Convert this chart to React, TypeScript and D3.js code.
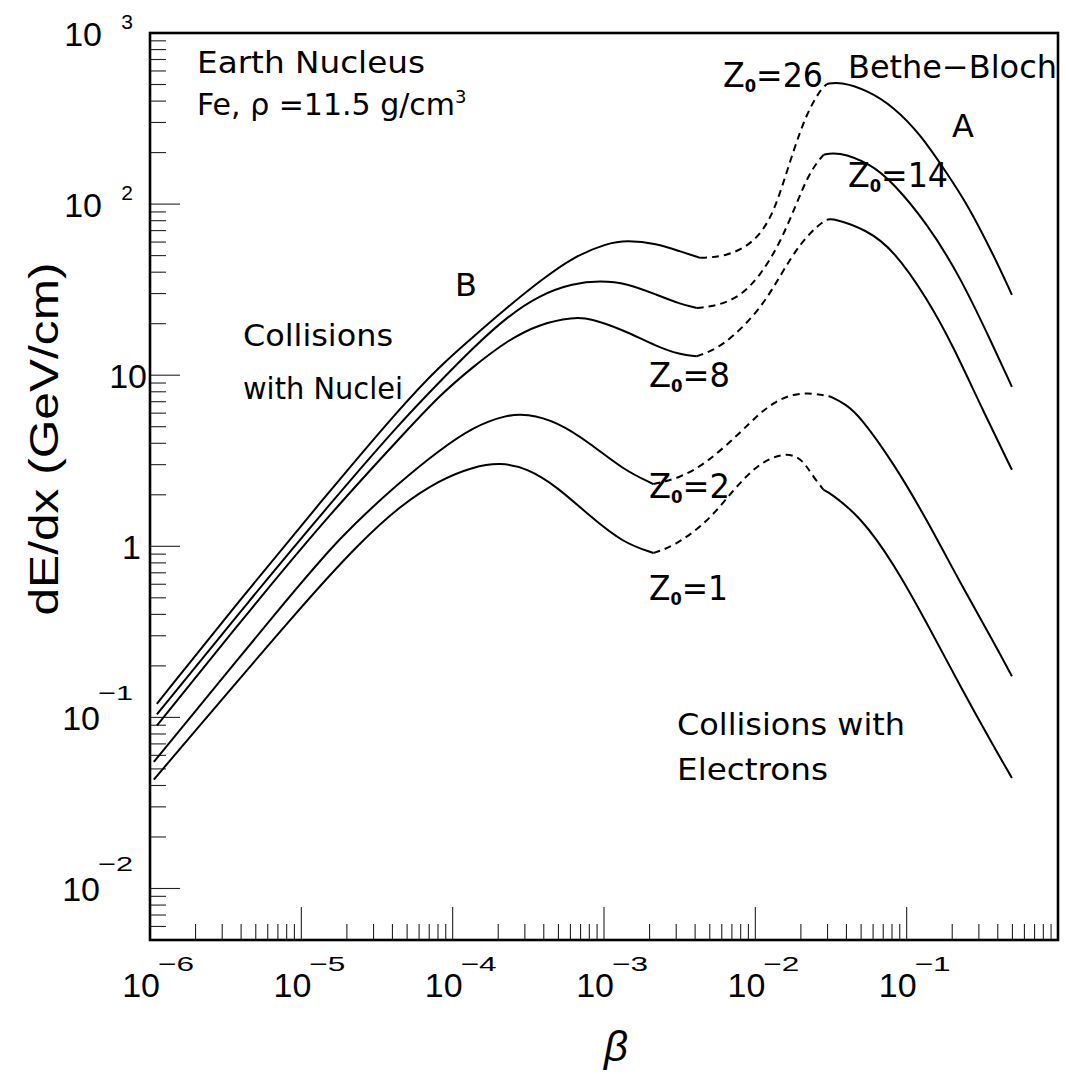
import React from "react";
import * as d3 from "d3";

type Pt = [number, number];

// Stopping power dE/dx (GeV/cm) versus beta, for projectile charges Z0.
// Each curve is split into: low-beta solid part, dashed bridge, Bethe-Bloch solid part.
const z26Low: Pt[] = [[1.11e-6, 0.12], [3.94e-6, 0.488], [1.33e-5, 1.8], [4.49e-5, 6.45], [8.25e-5, 11.35], [1.37e-4, 16.8], [2.28e-4, 24.8], [3.78e-4, 35.6], [6.28e-4, 49.2], [1.04e-3, 58.9], [1.415e-3, 61.4], [2.23e-3, 58.9], [3.18e-3, 52.9], [4.32e-3, 48.5]];
const z26Dash: Pt[] = [[4.32e-3, 48.5], [6.48e-3, 49.4], [9.71e-3, 59.1], [1.25e-2, 80.9], [1.46e-2, 116], [1.79e-2, 207], [2.19e-2, 340], [2.68e-2, 464], [2.97e-2, 504]];
const z26High: Pt[] = [[2.97e-2, 504], [3.64e-2, 519], [5.46e-2, 464], [8.18e-2, 371], [0.1228, 257], [0.1844, 151.5], [0.25, 101], [0.375, 50.5], [0.496, 29.5]];

const z14Low: Pt[] = [[1.11e-6, 0.104], [4.58e-6, 0.488], [1.55e-5, 1.774], [4.49e-5, 5.27], [8.25e-5, 9.19], [1.364e-4, 14.45], [2.28e-4, 21.9], [3.78e-4, 29.5], [6.25e-4, 34.4], [9.42e-4, 35.7], [1.415e-3, 34.5], [2.23e-3, 29.5], [3.18e-3, 26.1], [4.1e-3, 24.7]];
const z14Dash: Pt[] = [[4.1e-3, 24.7], [5.57e-3, 25.4], [7.93e-3, 28.8], [1.076e-2, 38.1], [1.459e-2, 59.3], [1.88e-2, 101.6], [2.3e-2, 156], [2.82e-2, 194]];
const z14High: Pt[] = [[2.82e-2, 194], [3.46e-2, 203], [5.74e-2, 173], [8.18e-2, 132.5], [0.136, 77.3], [0.226, 37.7], [0.375, 14.65], [0.496, 8.55]];

const z8Low: Pt[] = [[1.11e-6, 0.0896], [5.2e-6, 0.488], [1.55e-5, 1.55], [4.49e-5, 4.31], [8.25e-5, 7.68], [1.364e-4, 11.2], [2.28e-4, 15.9], [3.78e-4, 20.0], [6.28e-4, 21.8], [8.09e-4, 21.55], [1.343e-3, 18.4], [2.23e-3, 14.7], [3.18e-3, 13.2], [4.1e-3, 12.9]];
const z8Dash: Pt[] = [[4.1e-3, 12.9], [6.16e-3, 14.7], [1.076e-2, 24.1], [1.459e-2, 38.1], [1.98e-2, 59.3], [2.68e-2, 77.1], [2.97e-2, 80.9]];
const z8High: Pt[] = [[2.97e-2, 80.9], [3.28e-2, 82.7], [5.46e-2, 70.7], [8.18e-2, 54.0], [0.136, 28.3], [0.204, 14.65], [0.306, 6.72], [0.496, 2.8]];

const z2Low: Pt[] = [[1.06e-6, 0.055], [8.01e-6, 0.488], [1.8e-5, 1.138], [4.49e-5, 2.384], [8.25e-5, 3.67], [1.37e-4, 5.0], [2.28e-4, 5.87], [3.09e-4, 5.95], [4.88e-4, 5.36], [8.09e-4, 4.01], [1.343e-3, 2.8], [2.12e-3, 2.31]];
const z2Dash: Pt[] = [[2.12e-3, 2.31], [3.18e-3, 2.51], [4.78e-3, 3.07], [7.93e-3, 4.61], [1.076e-2, 6.03], [1.35e-2, 6.99], [1.778e-2, 7.79], [2.41e-2, 7.86], [3.12e-2, 7.51]];
const z2High: Pt[] = [[3.12e-2, 7.51], [3.92e-2, 6.81], [4.93e-2, 5.74], [8.18e-2, 3.07], [0.136, 1.43], [0.226, 0.61], [0.375, 0.277], [0.496, 0.174]];

const z1Low: Pt[] = [[1.06e-6, 0.0433], [1.086e-5, 0.488], [2.44e-5, 1.05], [4.49e-5, 1.726], [8.25e-5, 2.449], [1.37e-4, 2.917], [2.06e-4, 3.09], [3.09e-4, 2.867], [4.88e-4, 2.238], [8.09e-4, 1.495], [1.343e-3, 1.045], [2.12e-3, 0.914]];
const z1Dash: Pt[] = [[2.12e-3, 0.914], [2.88e-3, 1.0], [4.78e-3, 1.368], [7.17e-3, 2.141], [1.043e-2, 3.04], [1.53e-2, 3.52], [1.92e-2, 3.34], [2.17e-2, 2.96], [2.42e-2, 2.55], [2.82e-2, 2.14]];
const z1High: Pt[] = [[2.82e-2, 2.14], [3.12e-2, 2.05], [4.93e-2, 1.495], [8.18e-2, 0.799], [0.136, 0.3565], [0.226, 0.152], [0.375, 0.0678], [0.496, 0.0443]];

const curves: { z: number; low: Pt[]; dash: Pt[]; high: Pt[] }[] = [
  { z: 26, low: z26Low, dash: z26Dash, high: z26High },
  { z: 14, low: z14Low, dash: z14Dash, high: z14High },
  { z: 8, low: z8Low, dash: z8Dash, high: z8High },
  { z: 2, low: z2Low, dash: z2Dash, high: z2High },
  { z: 1, low: z1Low, dash: z1Dash, high: z1High },
];

// Axis decades
const xDecades = [-6, -5, -4, -3, -2, -1, 0];
const yDecades = [-3, -2, -1, 0, 1, 2, 3];
const xLabelExps = [-6, -5, -4, -3, -2, -1];
const yLabelExps = [-2, -1, 0, 1, 2, 3];

const W = 1066;
const H = 1074;
const left = 150;
const right = 1058;
const top = 33;
const bottom = 940;

const x = d3.scaleLog().domain([1e-6, 1]).range([left, right]);
const y = d3.scaleLog().domain([5e-3, 1e3]).range([bottom, top]);

const line = d3
  .line<Pt>()
  .x((d) => x(d[0]))
  .y((d) => y(d[1]))
  .curve(d3.curveBasis);

const tickFont = "'Liberation Sans', Arial, sans-serif";
const noteFont = "'DejaVu Sans', 'Liberation Sans', sans-serif";

function minorTicks(decades: number[], lo: number, hi: number) {
  const out: { v: number; major: boolean }[] = [];
  decades.forEach((k) => {
    for (let m = 1; m <= 9; m++) {
      const v = m * Math.pow(10, k);
      if (v >= lo * 0.9999 && v <= hi * 1.0001) out.push({ v, major: m === 1 });
    }
  });
  return out;
}

function expText(e: number) {
  return e < 0 ? "\u2212" + Math.abs(e) : String(e);
}

function YLabel({ e }: { e: number }) {
  const ty = y(Math.pow(10, e));
  if (e === 0) {
    return (
      <text x={141} y={ty + 13} fontFamily={tickFont} fontSize={34} textAnchor="end">
        1
      </text>
    );
  }
  if (e === 1) {
    return (
      <text x={147} y={ty + 13} fontFamily={tickFont} fontSize={34} textAnchor="end">
        10
      </text>
    );
  }
  const neg = e < 0;
  return (
    <g>
      <text x={neg ? 100 : 102} y={ty + 13} fontFamily={tickFont} fontSize={34} textAnchor="end">
        10
      </text>
      <text
        x={133}
        y={ty + 13 - (neg ? 30 : 17)}
        fontFamily={tickFont}
        fontSize={21}
        textAnchor="end"
        {...(neg ? { textLength: 35, lengthAdjust: "spacingAndGlyphs" } : {})}
      >
        {expText(e)}
      </text>
    </g>
  );
}

function XLabel({ e }: { e: number }) {
  const tx = x(Math.pow(10, e));
  return (
    <g>
      <text x={tx + 10} y={997} fontFamily={tickFont} fontSize={34} textAnchor="end">
        10
      </text>
      <text
        x={tx + 8}
        y={971}
        fontFamily={tickFont}
        fontSize={21}
        textLength={36}
        lengthAdjust="spacingAndGlyphs"
      >
        {expText(e)}
      </text>
    </g>
  );
}

function ZLabel({ z, px, py, len }: { z: number; px: number; py: number; len: number }) {
  return (
    <text x={px} y={py} fontFamily={noteFont} fontSize={33} textLength={len} lengthAdjust="spacingAndGlyphs">
      Z
      <tspan fontSize={17} fontWeight="bold" dy={5}>
        0
      </tspan>
      <tspan dy={-5}>={z}</tspan>
    </text>
  );
}

export default function App() {
  const xt = minorTicks(xDecades, 1e-6, 1);
  const yt = minorTicks(yDecades, 5e-3, 1e3);

  return (
    <svg
      width={W}
      height={H}
      viewBox={`0 0 ${W} ${H}`}
      style={{ position: "absolute", left: 0, top: 0, background: "#fff" }}
    >
      <rect x={0} y={0} width={W} height={H} fill="#fff" />

      {/* ticks on the bottom and left axes */}
      <g stroke="#222" strokeWidth={1.1}>
        {xt.map((t, i) => (
          <line key={"xt" + i} x1={x(t.v)} x2={x(t.v)} y1={bottom} y2={bottom - (t.major ? 33 : 16)} />
        ))}
        {yt.map((t, i) => (
          <line key={"yt" + i} x1={left} x2={left + (t.major ? 30 : 16)} y1={y(t.v)} y2={y(t.v)} />
        ))}
      </g>

      {/* curves */}
      <g fill="none" stroke="#000" strokeWidth={2}>
        {curves.map((c) => (
          <g key={c.z}>
            <path d={line(c.low) || ""} />
            <path d={line(c.dash) || ""} strokeDasharray="7 5" />
            <path d={line(c.high) || ""} />
          </g>
        ))}
      </g>

      {/* frame */}
      <rect x={left} y={top} width={right - left} height={bottom - top} fill="none" stroke="#000" strokeWidth={2.6} />

      {/* tick labels */}
      {yLabelExps.map((e) => (
        <YLabel key={"yl" + e} e={e} />
      ))}
      {xLabelExps.map((e) => (
        <XLabel key={"xl" + e} e={e} />
      ))}

      {/* axis titles */}
      <text
        transform={`translate(58,439) rotate(-90)`}
        fontFamily={tickFont}
        fontSize={40}
        textAnchor="middle"
        textLength={353}
        lengthAdjust="spacingAndGlyphs"
      >
        dE/dx (GeV/cm)
      </text>
      <text x={616} y={1061} fontFamily={tickFont} fontSize={42} fontStyle="italic" textAnchor="middle">
        β
      </text>

      {/* annotations */}
      <g fontFamily={noteFont} fill="#000">
        <text x={197} y={73} fontSize={30} textLength={228} lengthAdjust="spacingAndGlyphs">
          Earth Nucleus
        </text>
        <text x={197} y={115} fontSize={30}>
          Fe, ρ =11.5 g/cm
          <tspan fontSize={18} dy={-12}>
            3
          </tspan>
        </text>
        <text x={243} y={346} fontSize={30} textLength={150} lengthAdjust="spacingAndGlyphs">
          Collisions
        </text>
        <text x={243} y={399} fontSize={30} textLength={160} lengthAdjust="spacingAndGlyphs">
          with Nuclei
        </text>
        <text x={455} y={296} fontSize={32}>
          B
        </text>
        <text x={952} y={137} fontSize={32}>
          A
        </text>
        <text x={848} y={78} fontSize={32} textLength={209} lengthAdjust="spacingAndGlyphs">
          Bethe−Bloch
        </text>
        <text x={677} y={735} fontSize={30} textLength={228} lengthAdjust="spacingAndGlyphs">
          Collisions with
        </text>
        <text x={677} y={780} fontSize={30} textLength={151} lengthAdjust="spacingAndGlyphs">
          Electrons
        </text>
      </g>
      <ZLabel z={26} px={723} py={87} len={100} />
      <ZLabel z={14} px={848} py={187} len={100} />
      <ZLabel z={8} px={649} py={387} len={81} />
      <ZLabel z={2} px={649} py={498} len={81} />
      <ZLabel z={1} px={649} py={600} len={79} />
    </svg>
  );
}
